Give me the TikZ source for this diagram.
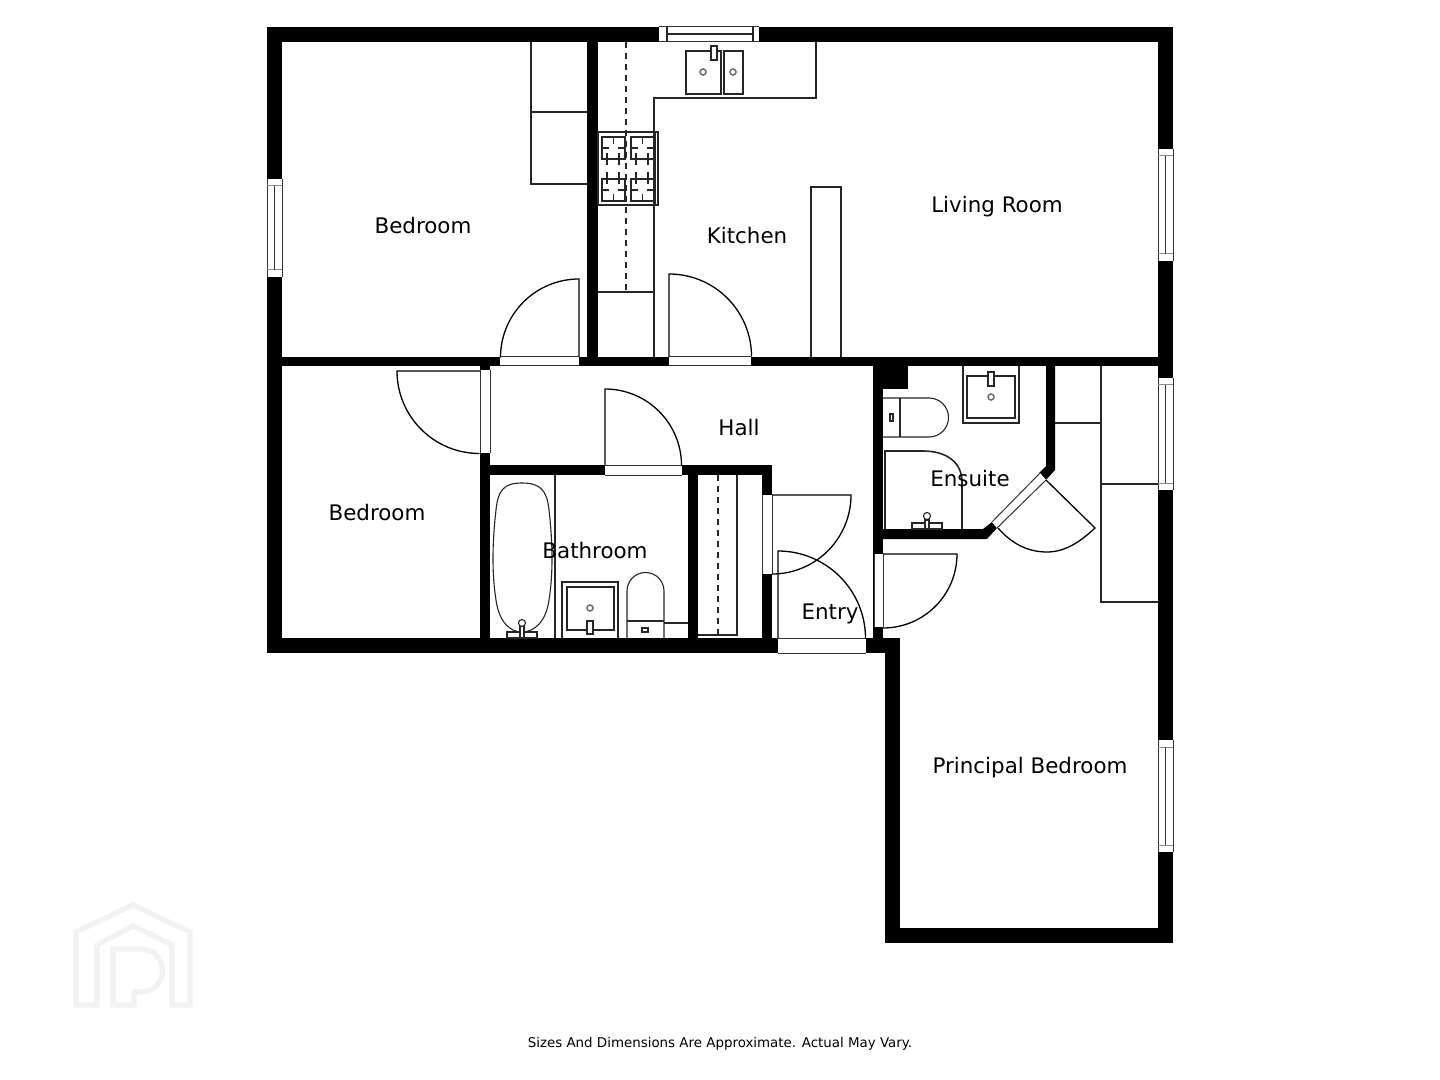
\documentclass[tikz,border=0pt]{standalone}
\usepackage{fontspec}
\setmainfont{DejaVu Sans}
\tikzset{
    wall/.style={fill=black,draw=none},
    fixture/.style={draw=black!85,line width=0.55pt,fill=none},
    jamb/.style={draw=black!80,line width=0.5pt},
    opening/.style={fill=white,draw=none},
    door/.style={draw=black,line width=0.65pt},
    centerline/.style={draw=black!85,line width=0.55pt,dash pattern=on 3pt off 2.5pt},
    drain/.style={draw=black!55,line width=0.8pt,fill=white},
    room/.style={font=\fontsize{10.7}{12}\selectfont,inner sep=0pt},
    logo/.style={draw=black!5,line width=2.6pt,line join=miter}
}
\newcommand{\burner}[2]{% x, y
    \draw[fixture,line width=0.7pt] (#1,#2) rectangle ++(23,22);
    \draw[fixture,line width=0.7pt] (#1,#2+11) -- ++(7,0) (#1+23,#2+11) -- ++(-7,0);
}
\begin{document}
\begin{tikzpicture}[x=0.5pt,y=-0.5pt]
    \useasboundingbox (0,0) rectangle (1440,1080);
    \fill[white] (0,0) rectangle (1440,1080);

    % watermark
    \draw[logo] (97,1005) -- (76,1005) -- (76,932) -- (133,905) -- (190,932)
        -- (190,1005) -- (172,1005) -- (172,945) -- (133,926) -- (97,945) -- cycle;
    \draw[logo] (113,1005) -- (113,949) -- (140,949) .. controls (170,949) and (170,992) .. (140,992)
        -- (134,992) -- (134,1005) -- cycle;

    % walls
    \foreach \xa/\ya/\xb/\yb in {267/27/1173/42, 267/27/282/653, 1158/27/1173/943,
        267/638/899/653, 885/638/900/943, 885/928/1173/943, 587/42/598/357,
        282/357/1158/366, 480/366/490/640, 480/465/772/475, 688/475/698/640,
        762/465/772/640, 873/366/883/638, 873/366/908/389, 866/638/899/653}
        \fill[wall] (\xa,\ya) rectangle (\xb,\yb);
    \fill[wall] (1046,366) -- (1055,366) -- (1055,470) -- (1046,480) -- (1039,473) -- (1046,466) -- cycle;
    \fill[wall] (883,529) -- (983,529) -- (992,522) -- (997,528) -- (987,539) -- (883,539) -- cycle;

    % windows
    \fill[opening] (659,27) rectangle (759,42);
    \draw[jamb] (659,27) -- (759,27) (659,42) -- (759,42);
    \draw[fixture] (667,27) -- (667,42) (753,27) -- (753,42) (667,34) -- (753,34);
    \foreach \xa/\ya/\yb in {267/179/277, 1158/149/261, 1158/378/490, 1158/740/852} {
        \fill[opening] (\xa,\ya) rectangle (\xa+15,\yb);
        \draw[jamb] (\xa,\ya) -- (\xa,\yb) (\xa+15,\ya) -- (\xa+15,\yb);
        \draw[jamb,draw=black!45] (\xa,\ya+7) -- ++(15,0) (\xa,\yb-7) -- ++(15,0);
        \draw[jamb] (\xa+7.5,\ya+7) -- (\xa+7.5,\yb-7);
    }

    % door openings
    \foreach \xa/\xb/\ya/\yb in {500/579/357/366, 669/751/357/366, 605/682/465/475, 778/866/638/653} {
        \fill[opening] (\xa,\ya) rectangle (\xb,\yb);
        \draw[jamb] (\xa,\ya) -- (\xb,\ya) (\xa,\yb) -- (\xb,\yb);
    }
    \foreach \xa/\xb/\ya/\yb in {480/490/370/453, 762/772/495/574, 874/883/554/627} {
        \fill[opening] (\xa,\ya) rectangle (\xb,\yb);
        \draw[jamb] (\xa,\ya) -- (\xa,\yb) (\xb,\ya) -- (\xb,\yb);
    }
    \fill[opening] (992,522) -- (1040,473) -- (1046,480) -- (997,528) -- cycle;
    \draw[jamb] (992,522) -- (1040,473) (997,528) -- (1046,480);

    % doors
    \draw[door] (579,357) -- (579,279) arc[start angle=-90,end angle=-180,radius=78.5];
    \draw[door] (669,357) -- (669,274) arc[start angle=-90,end angle=0,radius=82.5];
    \draw[door] (480,371) -- (397,371) arc[start angle=180,end angle=90,radius=82.5];
    \draw[door] (605,465) -- (605,389) arc[start angle=-90,end angle=0,radius=76.5];
    \draw[door] (772,495) -- (851,495) arc[start angle=0,end angle=90,radius=79];
    \draw[door] (778,638) -- (778,551) arc[start angle=-90,end angle=0,radius=87.5];
    \draw[door] (883,554) -- (957,554) arc[start angle=0,end angle=90,radius=74];
    \draw[door] (1046,480) -- (1095,528) .. controls (1080,542) and (1065,552) .. (1047,552)
        .. controls (1028,552) and (1012,544) .. (998,528);

    % kitchen units
    \draw[fixture] (816,42) -- (816,98) -- (654,98) -- (654,357);
    \draw[fixture] (598,292) -- (654,292);
    \draw[fixture] (686,51) rectangle (721,94);
    \draw[fixture] (724,51) rectangle (743,94);
    \draw[fixture,fill=white] (711,46) rectangle (717,60);
    \draw[drain] (703,72) circle (3);
    \draw[drain] (733,72) circle (3);

    % cooker
    \draw[fixture] (598,132) rectangle (658,205);
    \draw[fixture] (655,132) -- (655,205);
    \foreach \bx in {602,631} {
        \foreach \by in {137,179} \burner{\bx}{\by};
        \draw[fixture,line width=0.7pt] (\bx+11.5,137) -- ++(0,7) (\bx+11.5,201) -- ++(0,-7)
            (\bx+5,153) -- ++(0,12) (\bx+17,153) -- ++(0,12)
            (\bx+5,172) -- ++(0,12) (\bx+17,172) -- ++(0,12);
    }
    \draw[centerline] (626,42) -- (626,292);

    % bedroom wardrobe, chimney breast
    \draw[fixture] (587,184) -- (531,184) -- (531,42) (531,112) -- (587,112);
    \draw[fixture] (811,357) -- (811,187) -- (841,187) -- (841,357);

    % bathroom
    \draw[fixture] (555,475) -- (555,638);
    \draw[fixture] (522,483) .. controls (504,483) and (498,490) .. (496,510)
        .. controls (492,545) and (492,575) .. (496,600)
        .. controls (499,622) and (510,632) .. (522,632)
        .. controls (534,632) and (546,622) .. (549,600)
        .. controls (553,575) and (553,545) .. (549,510)
        .. controls (547,490) and (540,483) .. (522,483) -- cycle;
    \draw[fixture,fill=white] (507,632) rectangle (537,638);
    \draw[fixture,fill=white] (520,625) rectangle (524,638);
    \draw[fixture,fill=white] (522,623) circle (3.5);
    \draw[fixture] (562,638) -- (562,582) -- (618,582) -- (618,638);
    \draw[fixture] (567,587) rectangle (614,630);
    \draw[fixture,fill=white] (587,621) rectangle (593,634);
    \draw[drain] (590,608) circle (3);
    \draw[fixture] (627,638) -- (627,591) arc[start angle=180,end angle=360,radius=18.5] -- (664,638);
    \draw[fixture] (627,621) -- (664,621) (664,623) -- (688,623);
    \draw[fixture] (642,628) rectangle (648,632);

    % closet
    \draw[fixture] (698,635) -- (737,635) -- (737,475);
    \draw[centerline] (718,475) -- (718,635);

    % ensuite
    \draw[fixture] (963,366) -- (963,423) -- (1019,423) -- (1019,366);
    \draw[fixture] (967,376) rectangle (1015,418);
    \draw[fixture,fill=white] (988,372) rectangle (994,386);
    \draw[drain] (991,397) circle (3);
    \draw[fixture] (883,398) -- (929,398) arc[start angle=-90,end angle=90,radius=19.5] -- (883,437);
    \draw[fixture] (900,398) -- (900,437);
    \draw[fixture] (890,414) rectangle (893,421);
    \draw[fixture] (885,529) -- (885,451);
    \draw[fixture,line width=0.8pt] (884,451) -- (923,451) .. controls (946,451) and (962,462) .. (962,482) -- (962,529);
    \draw[fixture,fill=white] (912,523) rectangle (942,529);
    \draw[fixture,fill=white] (925,520) rectangle (929,529);
    \draw[fixture,fill=white] (927,516) circle (3.5);

    % principal bedroom wardrobes
    \draw[fixture] (1101,366) -- (1101,602) -- (1158,602);
    \draw[fixture] (1055,423) -- (1101,423) (1101,484) -- (1158,484);

    % labels
    \node[room] (bedroomA) at (423,226) {Bedroom};
    \node[room] (living) at (997,207) {Living Room};
    \node[room] (kitchen) at (747,236) {Kitchen};
    \node[room] (hall) at (739,428) {Hall};
    \node[room] (bedroomB) at (377,513) {Bedroom};
    \node[room] (bathroom) at (595,551) {Bathroom};
    \node[room] (ensuite) at (970,479) {Ensuite};
    \node[room] (entry) at (830,614) {Entry};
    \node[room] (principal) at (1030,768) {Principal Bedroom};
    \node[font=\fontsize{6.7}{8}\selectfont,inner sep=0pt] (note) at (720,1044)
        {Sizes And Dimensions Are Approximate. Actual May Vary.};
\end{tikzpicture}
\end{document}
